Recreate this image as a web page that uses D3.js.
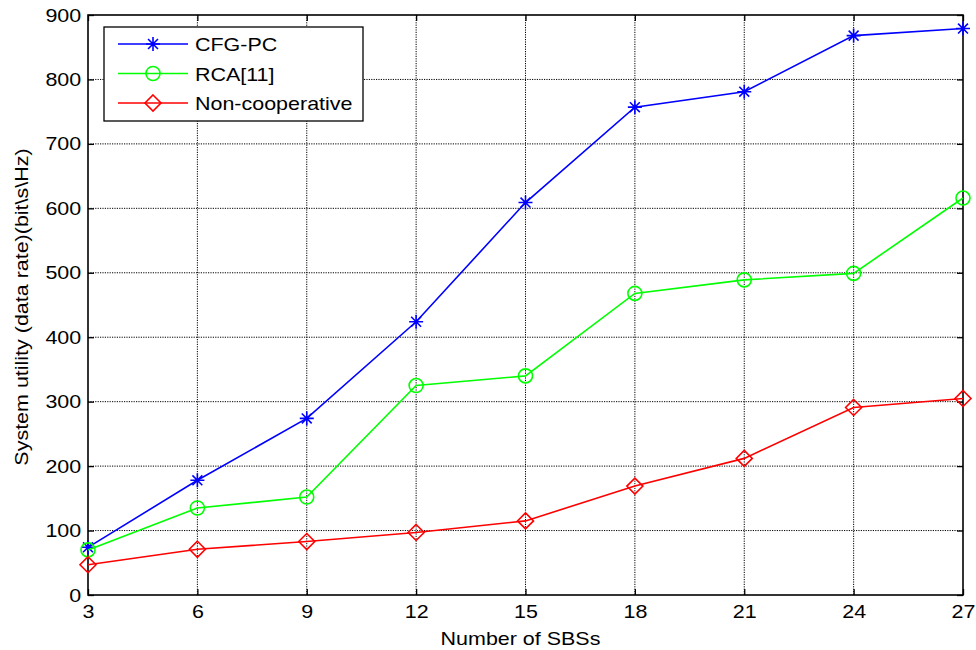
<!DOCTYPE html>
<html>
<head>
<meta charset="utf-8">
<script src="https://cdn.jsdelivr.net/npm/d3@7"></script>
<style>
  body { margin: 0; background: #fff; }
  svg text { font-family: "Liberation Sans", Arial, sans-serif; }
</style>
</head>
<body>
<div id="plot"></div>
<script>
// data
const sbs = [3, 6, 9, 12, 15, 18, 21, 24, 27];
const cfgPC = [74, 178, 274, 424, 609, 757, 781, 868, 879];
const rca = [70, 135, 152, 325, 340, 468, 489, 499, 616];
const nonCoop = [47, 71, 83, 97, 115, 169, 212, 291, 305];
const yTicks = [0, 100, 200, 300, 400, 500, 600, 700, 800, 900];

const series = [
    { name: "CFG-PC", values: cfgPC, color: "#0000ff", marker: "star" },
    { name: "RCA[11]", values: rca, color: "#00ff00", marker: "circle" },
    { name: "Non-cooperative", values: nonCoop, color: "#ff0000", marker: "diamond" }
];

const margin = { top: 15, right: 13, bottom: 55, left: 88 };
const W = 976, H = 650;
const width = W - margin.left - margin.right;
const height = H - margin.top - margin.bottom;
const fs = 19;      // font size
const sx = 1.13;    // the original text looks a bit stretched horizontally

const svg = d3.select("#plot").append("svg")
    .attr("width", W).attr("height", H);
const g = svg.append("g")
    .attr("transform", "translate(" + margin.left + "," + margin.top + ")");

const x = d3.scaleLinear().domain([3, 27]).range([0, width]);
const y = d3.scaleLinear().domain([0, 900]).range([height, 0]);

// grid
g.append("g").selectAll("line").data(sbs.slice(1, -1)).enter().append("line")
    .attr("x1", d => x(d)).attr("x2", d => x(d))
    .attr("y1", 0).attr("y2", height)
    .attr("stroke", "#000").attr("stroke-width", 1).attr("stroke-dasharray", "1.2,1.2");
g.append("g").selectAll("line").data(yTicks.slice(1, -1)).enter().append("line")
    .attr("y1", d => y(d)).attr("y2", d => y(d))
    .attr("x1", 0).attr("x2", width)
    .attr("stroke", "#000").attr("stroke-width", 1).attr("stroke-dasharray", "1.2,1.2");

// axes (ticks inward)
const xAxis = g.append("g").attr("transform", "translate(0," + height + ")")
    .call(d3.axisBottom(x).tickValues(sbs).tickSizeInner(-6).tickSizeOuter(0).tickPadding(10));
const xTop = g.append("g")
    .call(d3.axisTop(x).tickValues(sbs).tickSizeInner(-6).tickSizeOuter(0).tickFormat(""));
const yAxis = g.append("g")
    .call(d3.axisLeft(y).tickValues(yTicks).tickSizeInner(-6).tickSizeOuter(0).tickPadding(6));
const yRight = g.append("g").attr("transform", "translate(" + width + ",0)")
    .call(d3.axisRight(y).tickValues(yTicks).tickSizeInner(-6).tickSizeOuter(0).tickFormat(""));

[xAxis, xTop, yAxis, yRight].forEach(a => {
    a.select(".domain").remove();
    a.selectAll("line").attr("stroke", "#000").attr("stroke-width", 1.3);
    a.selectAll("text").attr("font-size", fs).attr("fill", "#000")
        .attr("transform", "scale(" + sx + ",1)")
        .style("font-family", "'Liberation Sans', Arial, sans-serif");
});

// frame
g.append("rect").attr("width", width).attr("height", height)
    .attr("fill", "none").attr("stroke", "#000").attr("stroke-width", 1.6);

function drawMarker(sel, type, color) {
    if (type === "star") {
        const r = 7;
        const p = [];
        for (let i = 0; i < 4; i++) {
            const a = i * Math.PI / 4;
            p.push("M" + (-r * Math.cos(a)) + "," + (-r * Math.sin(a)) + "L" + (r * Math.cos(a)) + "," + (r * Math.sin(a)));
        }
        sel.append("path").attr("d", p.join("")).attr("stroke", color).attr("stroke-width", 1.6).attr("fill", "none");
    } else if (type === "circle") {
        sel.append("circle").attr("r", 7).attr("stroke", color).attr("stroke-width", 1.6).attr("fill", "none");
    } else {
        const r = 8;
        sel.append("path").attr("d", "M0," + (-r) + "L" + r + ",0L0," + r + "L" + (-r) + ",0Z")
            .attr("stroke", color).attr("stroke-width", 1.6).attr("fill", "none");
    }
}

const line = d3.line().x((d, i) => x(sbs[i])).y(d => y(d));

series.forEach(s => {
    g.append("path").datum(s.values)
        .attr("d", line).attr("fill", "none")
        .attr("stroke", s.color).attr("stroke-width", 1.6);
    s.values.forEach((v, i) => {
        const m = g.append("g").attr("transform", "translate(" + x(sbs[i]) + "," + y(v) + ")");
        drawMarker(m, s.marker, s.color);
    });
});

// legend
const lg = svg.append("g").attr("transform", "translate(104,27)");
lg.append("rect").attr("width", 259).attr("height", 94)
    .attr("fill", "#fff").attr("stroke", "#000").attr("stroke-width", 1.3);
series.forEach((s, i) => {
    const row = lg.append("g").attr("transform", "translate(0," + (17 + i * 29.5) + ")");
    row.append("line").attr("x1", 14).attr("x2", 84).attr("y1", 0).attr("y2", 0)
        .attr("stroke", s.color).attr("stroke-width", 1.6);
    drawMarker(row.append("g").attr("transform", "translate(49,0)"), s.marker, s.color);
    row.append("text").attr("transform", "translate(91,7) scale(" + sx + ",1)")
        .attr("font-size", fs).attr("fill", "#000").text(s.name);
});

// axis titles
svg.append("text")
    .attr("transform", "translate(" + (margin.left + width / 2 - 5) + ",645) scale(" + sx + ",1)")
    .attr("text-anchor", "middle").attr("font-size", fs)
    .text("Number of SBSs");
svg.append("text")
    .attr("transform", "translate(28," + (margin.top + height / 2 + 2) + ") rotate(-90) scale(" + sx + ",1)")
    .attr("text-anchor", "middle").attr("font-size", fs)
    .text("System utility (data rate)(bit\\s\\Hz)");
</script>
</body>
</html>
